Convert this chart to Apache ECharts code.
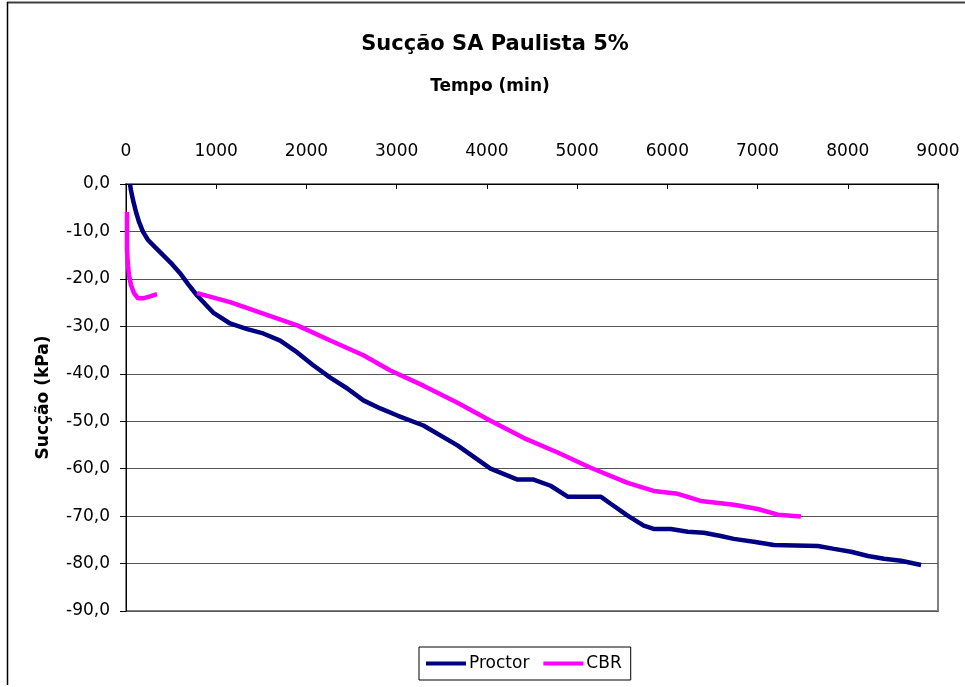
<!DOCTYPE html>
<html><head><meta charset="utf-8">
<script src="https://cdn.jsdelivr.net/npm/echarts@6/dist/echarts.min.js"></script>
<style>html,body{margin:0;padding:0;background:#fff}#c{width:965px;height:687px}</style>
</head><body><div id="c"></div>
<script>
const titleText = "Sucção SA Paulista 5%";
const xAxisName = "Tempo (min)";
const yAxisName = "Sucção (kPa)";
const seriesNames = ["Proctor", "CBR"];

const proctorX = [44,55,78,111,144,189,244,322,411,511,599,688,788,966,1154,1343,1521,1709,1898,2075,2264,2453,2631,2819,3008,3296,3674,4040,4340,4517,4706,4895,5261,5372,5560,5738,5849,6038,6226,6404,6593,6737,6959,7181,7669,7847,8036,8224,8402,8590,8812];
const proctorY = [0,-1.3,-3.4,-5.9,-8.0,-10.1,-11.8,-13.3,-15.0,-16.9,-18.8,-21.1,-23.5,-27.1,-29.4,-30.6,-31.5,-33.0,-35.5,-38.2,-40.8,-43.1,-45.6,-47.3,-48.8,-50.9,-55.1,-60.0,-62.3,-62.3,-63.6,-65.9,-65.9,-67.4,-69.9,-72.0,-72.7,-72.7,-73.3,-73.5,-74.2,-74.8,-75.4,-76.1,-76.3,-76.9,-77.5,-78.4,-79.0,-79.4,-80.3];

const cbrX = [11,11,11,22,33,55,89,133,189,266,344,null,788,1154,1521,1898,2264,2631,2930,3296,3674,4040,4406,4784,5150,5560,5849,6115,6371,6737,7003,7225,7481];
const cbrY = [-5.9,-9.7,-13.9,-17.1,-19.2,-21.3,-23.0,-24.1,-24.1,-23.7,-23.2,null,-23.0,-24.9,-27.3,-29.8,-33.0,-36.1,-39.3,-42.5,-46.1,-49.9,-53.5,-56.6,-59.8,-63.0,-64.7,-65.3,-66.8,-67.6,-68.5,-69.7,-70.1];

function pairs(xs, ys){ return xs.map((x,i)=> (x===null||ys[i]===null) ? [null,null] : [x, ys[i]]); }

const FF = 'DejaVu Sans, Verdana, sans-serif';
const chart = echarts.init(document.getElementById('c'));
chart.setOption({
  animation:false,
  backgroundColor:'#fff',
  textStyle:{fontFamily:FF},
  title:[
    {text:titleText, left:490, top:29, textAlign:'center',
     textStyle:{fontSize:21, fontWeight:'bold', color:'#000', fontFamily:FF}},
    {text:xAxisName, left:485, top:73, textAlign:'center',
     textStyle:{fontSize:17, fontWeight:'bold', color:'#000', fontFamily:FF}}
  ],
  grid:{left:126, top:184, right:27, bottom:76, show:true, borderColor:'#808080', borderWidth:2, backgroundColor:'#fff', containLabel:false},
  xAxis:{type:'value', position:'top', min:0, max:9000, interval:1000,
    axisLine:{show:true, onZero:false, lineStyle:{color:'#000', width:1}},
    axisTick:{show:true, inside:true, length:5, lineStyle:{color:'#000'}},
    axisLabel:{fontSize:17, color:'#000', margin:24, fontFamily:FF, formatter:v=>String(v)},
    splitLine:{show:false}},
  yAxis:{type:'value', min:-90, max:0, interval:10,
    name:yAxisName, nameLocation:'middle', nameGap:74, nameRotate:90,
    nameTextStyle:{fontSize:17, fontWeight:'bold', color:'#000', fontFamily:FF},
    axisLine:{show:true, onZero:false, lineStyle:{color:'#000', width:1}},
    axisTick:{show:true, inside:false, length:6, lineStyle:{color:'#000'}},
    axisLabel:{fontSize:17, color:'#000', margin:16, fontFamily:FF,
      formatter:v=> v.toFixed(1).replace('.',',')},
    splitLine:{show:true, lineStyle:{color:'#555', width:1}}},
  legend:{left:419, top:647, orient:'horizontal', padding:[8,9,8,7], itemGap:14,
    borderColor:'#000', borderWidth:1, itemWidth:40, itemHeight:4, icon:'rect',
    textStyle:{fontSize:17, color:'#000', padding:[0,0,0,-2], fontFamily:FF},
    data:seriesNames},
  series:[
    {name:seriesNames[0], type:'line', data:pairs(proctorX, proctorY), showSymbol:false, symbol:'none',
     lineStyle:{color:'#000080', width:4.5}, itemStyle:{color:'#000080'}, connectNulls:false},
    {name:seriesNames[1], type:'line', data:pairs(cbrX, cbrY), showSymbol:false, symbol:'none',
     lineStyle:{color:'#FF00FF', width:4.5}, itemStyle:{color:'#FF00FF'}, connectNulls:false}
  ],
  graphic:[
    {type:'line', shape:{x1:7, y1:2.5, x2:965, y2:2.5}, style:{stroke:'#404040', lineWidth:2}, silent:true},
    {type:'line', shape:{x1:7.5, y1:2, x2:7.5, y2:685}, style:{stroke:'#000', lineWidth:1.5}, silent:true}
  ]
});
</script></body></html>
